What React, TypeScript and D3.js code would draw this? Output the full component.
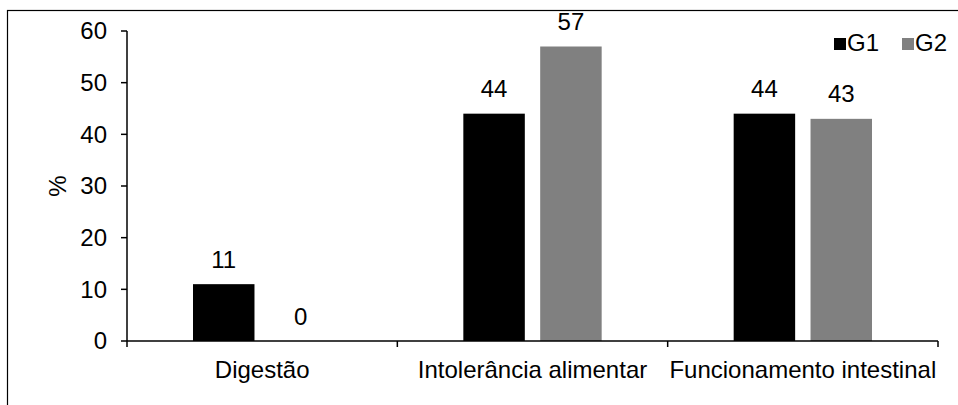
import React from "react";
import * as d3 from "d3";

const categories = ["Digestão", "Intolerância alimentar", "Funcionamento intestinal"];
const seriesNames = ["G1", "G2"];
const g1Values = [11, 44, 44];
const g2Values = [0, 57, 43];
const yTicks = [0, 10, 20, 30, 40, 50, 60];
const seriesColors = ["#000000", "#808080"];

const W = 958;
const H = 405;
const plot = { left: 127, right: 938, top: 31, bottom: 341 };
const FONT = "'Liberation Sans', Arial, sans-serif";
const FS = 24;

export default function App() {
  const x = d3
    .scaleBand<string>()
    .domain(categories)
    .range([plot.left, plot.right])
    .paddingInner(0)
    .paddingOuter(0);
  const inner = d3
    .scaleBand<string>()
    .domain(seriesNames)
    .range([66, x.bandwidth() - 66])
    .paddingInner(0.2);
  const y = d3.scaleLinear().domain([0, 60]).range([plot.bottom, plot.top]);

  const series = [g1Values, g2Values];
  const boundaries = [...categories.map((c) => x(c) as number), plot.right];

  return (
    <svg
      width={W}
      height={H}
      style={{ position: "absolute", left: 0, top: 0, background: "#fff" }}
      fontFamily={FONT}
    >
      {/* outer frame */}
      <rect x={7.5} y={10.5} width={W + 20} height={H + 20} fill="none" stroke="#000" strokeWidth={1.2} />

      {/* bars */}
      {categories.map((c, ci) =>
        seriesNames.map((s, si) => {
          const v = series[si][ci];
          const bx = (x(c) as number) + (inner(s) as number);
          const bw = inner.bandwidth();
          return (
            <g key={c + s}>
              <rect x={bx} y={y(v)} width={bw} height={y(0) - y(v)} fill={seriesColors[si]} />
              <text
                x={bx + bw / 2}
                y={y(v) - 16.5}
                textAnchor="middle"
                fontSize={FS}
                fill="#000"
              >
                {v}
              </text>
            </g>
          );
        })
      )}

      {/* y axis */}
      <line x1={plot.left} x2={plot.left} y1={plot.top} y2={plot.bottom} stroke="#000" strokeWidth={1.5} />
      {yTicks.map((t) => (
        <g key={t}>
          <line x1={plot.left - 6} x2={plot.left} y1={y(t)} y2={y(t)} stroke="#000" strokeWidth={1.5} />
          <text x={107} y={y(t)} dy="0.35em" textAnchor="end" fontSize={FS} fill="#000">
            {t}
          </text>
        </g>
      ))}
      <text
        transform={`translate(58,${(plot.top + plot.bottom) / 2}) rotate(-90)`}
        textAnchor="middle"
        dy="0.35em"
        fontSize={FS}
        fill="#000"
      >
        %
      </text>

      {/* x axis */}
      <line x1={plot.left} x2={plot.right} y1={plot.bottom} y2={plot.bottom} stroke="#000" strokeWidth={1.5} />
      {boundaries.map((bx, i) => (
        <line key={i} x1={bx} x2={bx} y1={plot.bottom} y2={plot.bottom + 6} stroke="#000" strokeWidth={1.5} />
      ))}
      {categories.map((c) => (
        <text
          key={c}
          x={(x(c) as number) + x.bandwidth() / 2}
          y={378}
          textAnchor="middle"
          fontSize={FS}
          fill="#000"
        >
          {c}
        </text>
      ))}

      {/* legend */}
      {seriesNames.map((s, i) => {
        const lx = 834 + i * 68;
        return (
          <g key={s}>
            <rect x={lx} y={38} width={12} height={12} fill={seriesColors[i]} />
            <text x={lx + 13} y={50.5} fontSize={FS} fill="#000">
              {s}
            </text>
          </g>
        );
      })}
    </svg>
  );
}
